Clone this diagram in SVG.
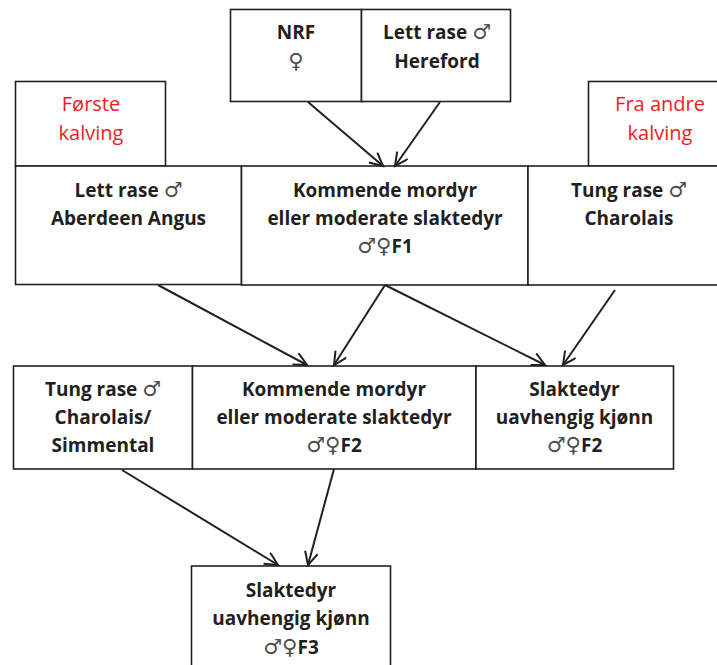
<svg xmlns="http://www.w3.org/2000/svg" width="717" height="665" viewBox="0 0 717 665">
<style>
  .box { fill: #ffffff; stroke: #231f20; stroke-width: 1.6; }
  .t { font-family: "Open Sans", "Liberation Sans", sans-serif; font-weight: 700; font-size: 19px; fill: #231f20; text-anchor: middle; }
  .r { font-family: "Open Sans", "Liberation Sans", sans-serif; font-weight: 400; font-size: 20px; fill: #ed1c24; text-anchor: middle; }
  .s { font-family: "DejaVu Sans", sans-serif; font-weight: 400; font-size: 21px; fill: #4d4d4d; }
  .c { fill: none; stroke: #231f20; stroke-width: 2; marker-end: url(#arr); }
</style>
<defs>
  <marker id="arr" markerUnits="userSpaceOnUse" markerWidth="18" markerHeight="18" refX="14" refY="7" orient="auto">
    <path d="M1,0.5 L14,7 L1,13.5" fill="none" stroke="#231f20" stroke-width="2"/>
  </marker>
</defs>
<rect width="717" height="665" fill="#ffffff"/>

<g id="nrf">
  <rect class="box" x="230.5" y="9.5" width="131" height="92"/>
  <text class="t" x="296" y="39">NRF</text>
  <text class="t" x="296" y="68"><tspan class="s">♀</tspan></text>
</g>
<g id="hereford">
  <rect class="box" x="361.5" y="9.5" width="149" height="92"/>
  <text class="t" x="437" y="39">Lett rase <tspan class="s">♂</tspan></text>
  <text class="t" x="437" y="68">Hereford</text>
</g>
<g id="forste">
  <rect class="box" x="15.5" y="81.5" width="150" height="84.5"/>
  <text class="r" x="91" y="111">Første</text>
  <text class="r" x="91" y="140">kalving</text>
</g>
<g id="fraandre">
  <rect class="box" x="588.5" y="81.5" width="146" height="84.5"/>
  <text class="r" x="660" y="111">Fra andre</text>
  <text class="r" x="660" y="140">kalving</text>
</g>
<g id="aberdeen">
  <rect class="box" x="15.5" y="166" width="226" height="118.5"/>
  <text class="t" x="128.5" y="197">Lett rase <tspan class="s">♂</tspan></text>
  <text class="t" x="128.5" y="225">Aberdeen Angus</text>
</g>
<g id="f1">
  <rect class="box" x="241.5" y="166" width="286.5" height="119"/>
  <text class="t" x="385" y="197">Kommende mordyr</text>
  <text class="t" x="385" y="225">eller moderate slaktedyr</text>
  <text class="t" x="385" y="253"><tspan class="s">♂♀</tspan>F1</text>
</g>
<g id="charolais">
  <rect class="box" x="528" y="166" width="207" height="119"/>
  <text class="t" x="629" y="197">Tung rase <tspan class="s">♂</tspan></text>
  <text class="t" x="629" y="225">Charolais</text>
</g>
<g id="simmental">
  <rect class="box" x="13.5" y="366" width="179" height="103"/>
  <text class="t" x="103" y="396">Tung rase <tspan class="s">♂</tspan></text>
  <text class="t" x="103" y="424">Charolais/</text>
  <text class="t" x="103" y="452">Simmental</text>
</g>
<g id="f2">
  <rect class="box" x="192.5" y="366" width="283.5" height="103"/>
  <text class="t" x="334" y="396">Kommende mordyr</text>
  <text class="t" x="334" y="424">eller moderate slaktedyr</text>
  <text class="t" x="334" y="452"><tspan class="s">♂♀</tspan>F2</text>
</g>
<g id="slakt-f2">
  <rect class="box" x="476" y="366" width="197.5" height="103"/>
  <text class="t" x="574.5" y="396">Slaktedyr</text>
  <text class="t" x="574.5" y="424">uavhengig kjønn</text>
  <text class="t" x="574.5" y="452"><tspan class="s">♂♀</tspan>F2</text>
</g>
<g id="slakt-f3">
  <rect class="box" x="191.5" y="566" width="199" height="120"/>
  <text class="t" x="291" y="597">Slaktedyr</text>
  <text class="t" x="291" y="625">uavhengig kjønn</text>
  <text class="t" x="291" y="654"><tspan class="s">♂♀</tspan>F3</text>
</g>

<g id="connectors">
  <line class="c" x1="308" y1="102" x2="383" y2="166"/>
  <line class="c" x1="440" y1="102" x2="395" y2="166"/>
  <line class="c" x1="158" y1="285" x2="307" y2="365"/>
  <line class="c" x1="385" y1="285" x2="334" y2="365"/>
  <line class="c" x1="385" y1="285" x2="545" y2="365"/>
  <line class="c" x1="615" y1="290" x2="563" y2="365"/>
  <line class="c" x1="122" y1="470" x2="278" y2="565"/>
  <line class="c" x1="334" y1="469" x2="308" y2="565"/>
</g>
</svg>
